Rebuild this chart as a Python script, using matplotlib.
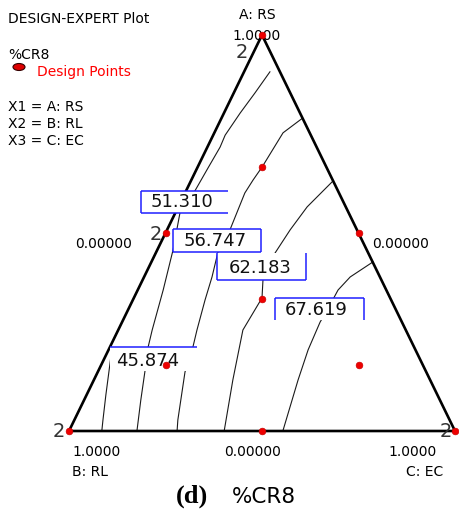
"""Mixture-design contour plot of %CR8 over the A/B/C simplex."""

import matplotlib
matplotlib.use("Agg")
import matplotlib.pyplot as plt
from matplotlib.patches import Rectangle, Ellipse
from matplotlib.transforms import Affine2D

W, H = 460, 511

# design points as component fractions; vertices and the A-B midpoint were run twice
design_a = [1.0, 0.0, 0.0, 0.5, 0.5, 0.0, 2 / 3, 1 / 6, 1 / 6, 1 / 3]
design_b = [0.0, 1.0, 0.0, 0.5, 0.0, 0.5, 1 / 6, 2 / 3, 1 / 6, 1 / 3]
design_c = [0.0, 0.0, 1.0, 0.0, 0.5, 0.5, 1 / 6, 1 / 6, 2 / 3, 1 / 3]
design_reps = [2, 2, 2, 2, 1, 1, 1, 1, 1, 1]

# %CR8 contour levels and their traces (A and C fractions along each line)
contour_levels = [45.874, 51.310, 56.747, 62.183, 67.619]
contour_a = [
    [0.192, 0.154, 0.091, 0.028, 0.0],
    [0.0, 0.078, 0.149, 0.212, 0.255, 0.356, 0.457, 0.551, 0.578, 0.606,
     0.664, 0.717, 0.747, 0.803, 0.854, 0.907],
    [0.0, 0.028, 0.149, 0.212, 0.255, 0.331, 0.389, 0.452, 0.508, 0.601,
     0.634, 0.667, 0.753, 0.790],
    [0.0, 0.129, 0.255, 0.336, 0.381, 0.417, 0.449, 0.508, 0.566, 0.629],
    [0.0, 0.129, 0.205, 0.275, 0.318, 0.356, 0.389, 0.427],
]
contour_c = [
    [0.013, 0.027, 0.050, 0.074, 0.085],
    [0.176, 0.147, 0.122, 0.099, 0.088, 0.066, 0.041, 0.012, 0.014, 0.023,
     0.028, 0.033, 0.031, 0.042, 0.055, 0.067],
    [0.280, 0.268, 0.226, 0.215, 0.204, 0.187, 0.176, 0.160, 0.163, 0.155,
     0.160, 0.167, 0.178, 0.210],
    [0.402, 0.360, 0.323, 0.332, 0.312, 0.307, 0.309, 0.319, 0.334, 0.367],
    [0.554, 0.529, 0.517, 0.513, 0.517, 0.519, 0.534, 0.574],
]

vertex_a = [1.0, 0.0, 0.0, 1.0]
vertex_c = [0.0, 0.0, 1.0, 0.0]

comp_labels = ["A: RS", "B: RL", "C: EC"]


def tern(a, c):
    """Simplex fractions -> plot coordinates (B at the origin, C to the right, A on top)."""
    return [ci + ai / 2 for ai, ci in zip(a, c)], list(a)


fig = plt.figure(figsize=(W / 100, H / 100), dpi=100)
ax = fig.add_axes([69 / W, 80 / H, 386 / W, 396 / H])
ax.set_xlim(0, 1)
ax.set_ylim(0, 1)
ax.axis("off")
# pixel-space transform for the annotation furniture (y runs downwards)
px = Affine2D().scale(1 / W, -1 / H).translate(0, 1) + fig.transFigure

for a, c in zip(contour_a, contour_c):
    xs, ys = tern(a, c)
    ax.plot(xs, ys, color="#1a1a1a", lw=0.8, zorder=2, clip_on=False,
            solid_joinstyle="round")

xs, ys = tern(vertex_a, vertex_c)
ax.plot(xs, ys, color="black", lw=1.9, zorder=3, clip_on=False,
        solid_joinstyle="miter")

# contour labels: box extents in pixels and which sides are outlined
label_boxes = [
    ((110, 347, 197, 371), "t", (148, 361)),
    ((141, 191, 228, 213), "ltb", (182, 202)),
    ((173, 229, 261, 252), "ltrb", (215, 241)),
    ((217, 253, 306, 280), "lrb", (260, 268)),
    ((275, 298, 364, 320), "ltr", (316, 310)),
]
for level, ((x0, y0, x1, y1), sides, (tx, ty)) in zip(contour_levels, label_boxes):
    ax.add_patch(Rectangle((x0, y0), x1 - x0, y1 - y0, transform=px,
                           facecolor="white", edgecolor="none", zorder=4,
                           clip_on=False))
    segs = {"l": ([x0, x0], [y0, y1]), "r": ([x1, x1], [y0, y1]),
            "t": ([x0, x1], [y0, y0]), "b": ([x0, x1], [y1, y1])}
    for s in sides:
        ax.plot(*segs[s], transform=px, color="#1f1fff", lw=1.1, zorder=5,
                clip_on=False, solid_capstyle="butt")
    ax.text(tx, ty, f"{level:.3f}", transform=px, ha="center", va="center",
            fontsize=13, color="#111111", zorder=6)

xs, ys = tern(design_a, design_c)
ax.plot(xs, ys, "o", color="#ee0000", ms=4.8, mec="#cc0000", mew=0.5,
        zorder=7, clip_on=False)

# replicate counts next to the duplicated runs
rep_offsets = [(-20, -17), (-10, 0), (-9, 0), (-10, -1)]
for x, y, n, off in zip(xs, ys, design_reps, rep_offsets):
    ax.annotate(str(n), (x, y), xytext=off, textcoords="offset pixels",
                ha="center", va="center", fontsize=14, color="#333333",
                zorder=8)

small = dict(transform=px, fontsize=10, color="black", va="center")
ax.text(257, 15, comp_labels[0], ha="center", **small)
ax.text(257, 36, "1.0000", ha="center", **small)
ax.text(104, 244, "0.00000", ha="center", **small)
ax.text(401, 244, "0.00000", ha="center", **small)
ax.text(97, 452, "1.0000", ha="center", **small)
ax.text(253, 452, "0.00000", ha="center", **small)
ax.text(413, 452, "1.0000", ha="center", **small)
ax.text(72, 472, comp_labels[1], ha="left", **small)
ax.text(443, 472, comp_labels[2], ha="right", **small)

ax.text(8, 19, "DESIGN-EXPERT Plot", ha="left", **small)
ax.text(8, 55, "%CR8", ha="left", **small)
ax.add_patch(Ellipse((19, 67), 12, 7, transform=px, facecolor="#dd0000",
                     edgecolor="#330000", lw=0.8, clip_on=False))
ax.text(37, 72, "Design Points", ha="left", transform=px, fontsize=10,
        color="#ff0000", va="center")
for i, (y, name) in enumerate(zip([107, 124, 141], comp_labels)):
    ax.text(8, y, f"X{i + 1} = {name}", ha="left", **small)

ax.text(192, 496, "(d)", transform=px, ha="center", va="center",
        fontsize=19, fontweight="bold", family="Liberation Serif")
ax.text(232, 497, "%CR8", transform=px, ha="left", va="center", fontsize=15.5)

fig.savefig("out.png", dpi=100)
